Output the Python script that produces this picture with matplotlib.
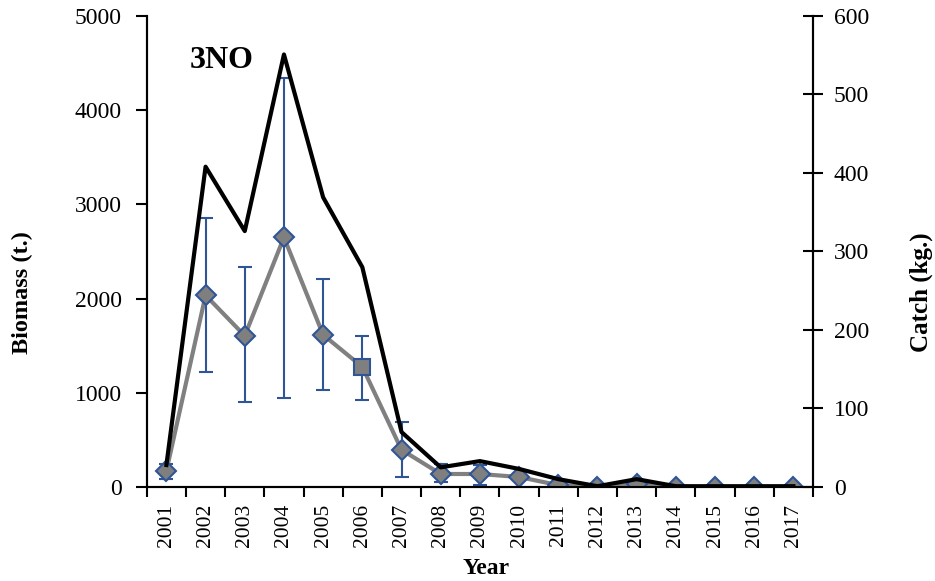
import matplotlib
matplotlib.use('Agg')
import matplotlib.pyplot as plt
import numpy as np

years = ['2001', '2002', '2003', '2004', '2005', '2006', '2007', '2008', '2009',
         '2010', '2011', '2012', '2013', '2014', '2015', '2016', '2017']
biomass = [170, 2035, 1605, 2650, 1615, 1275, 395, 138, 138, 106, 20, 5, 30, 0, 0, 0, 0]
biomass_upper = [245, 2855, 2335, 4340, 2210, 1605, 690, 244, 234, 140, 20, 5, 30, 0, 0, 0, 0]
biomass_lower = [85, 1220, 900, 945, 1030, 925, 106, 53, 21, 75, 20, 5, 30, 0, 0, 0, 0]
catch = [28, 408, 326, 551, 369, 280, 70, 25, 33, 23, 10, 1, 10, 1, 1, 1, 1]

plt.rcParams['font.family'] = ['Liberation Serif', 'DejaVu Serif']

x = np.arange(len(years))
b = np.array(biomass)
yerr = [b - np.array(biomass_lower), np.array(biomass_upper) - b]

fig = plt.figure(figsize=(9.35, 5.81), dpi=100)
ax = fig.add_axes([0.157, 0.1618, 0.7125, 0.8107])
ax2 = ax.twinx()

ax.errorbar(x, biomass, yerr=yerr, fmt='none', ecolor='#2F5597', elinewidth=1.5,
            capsize=5, capthick=1.5, zorder=2)
ax.plot(x, biomass, color='#808080', linewidth=3, zorder=3)
mk = ['D'] * len(years)
mk[5] = 's'
for i in range(len(years)):
    ax.plot(x[i], biomass[i], marker=mk[i], markersize=11 if mk[i] == 's' else 10,
            markerfacecolor='#7F7F7F', markeredgecolor='#2F5597', markeredgewidth=1.5,
            linestyle='none', zorder=4)

# catch on the right axis, drawn on top
ax2.plot(x, catch, color='black', linewidth=3, zorder=5)

ax.set_xlim(-0.5, len(years) - 0.5)
ax.set_ylim(0, 5000)
ax2.set_ylim(0, 600)
ax.set_yticks(range(0, 5001, 1000))
ax2.set_yticks(range(0, 601, 100))

ax.set_xticks(x)
ax.set_xticklabels(years, rotation=90, fontsize=15.5)
ax.set_xticks(np.arange(-0.5, len(years), 1), minor=True)
ax.tick_params(axis='x', which='major', length=0, pad=12)
ax.tick_params(axis='x', which='minor', length=7, width=1.5, direction='out')
ax.tick_params(axis='y', labelsize=17, length=8, width=1.5, direction='out', pad=10)
ax2.tick_params(axis='y', labelsize=17, length=14, width=1.5, direction='inout', pad=8)

for a in (ax, ax2):
    a.spines['top'].set_visible(False)
    for s in ('left', 'right', 'bottom'):
        a.spines[s].set_linewidth(1.5)

ax.set_ylabel('Biomass (t.)', fontsize=17.5, fontweight='bold')
ax.yaxis.set_label_coords(-0.171, 0.412)
ax2.set_ylabel('Catch (kg.)', fontsize=18, fontweight='bold')
ax2.yaxis.set_label_coords(1.145, 0.414)
ax.set_xlabel('Year', fontsize=17, fontweight='bold')
ax.xaxis.set_label_coords(0.51, -0.15)
ax.text(0.065, 0.89, '3NO', transform=ax.transAxes, fontsize=23, fontweight='bold')

fig.savefig('out.png', dpi=100)
